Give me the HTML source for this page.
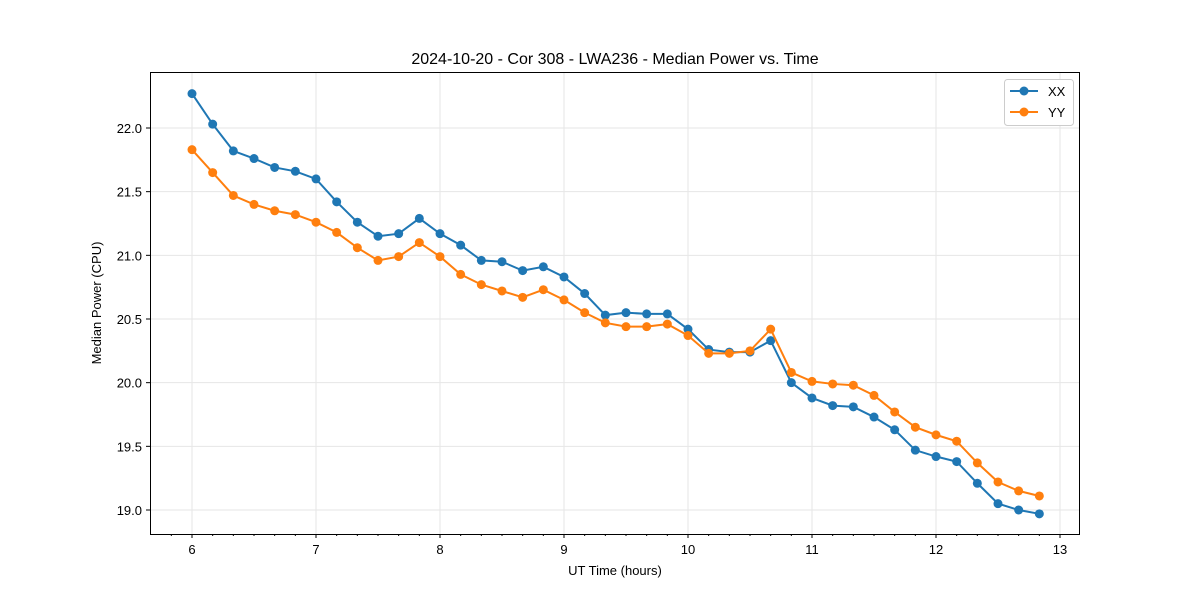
<!DOCTYPE html>
<html><head><meta charset="utf-8"><style>
body{margin:0;background:#fff;}
text{font-family:"Liberation Sans","DejaVu Sans",sans-serif;}
</style></head><body>
<svg id="chart" width="1200" height="600" xmlns="http://www.w3.org/2000/svg">
<rect width="1200" height="600" fill="#fff"/>
<text x="615" y="64" font-size="16" text-anchor="middle">2024-10-20 - Cor 308 - LWA236 - Median Power vs. Time</text>
<text x="615" y="575" font-size="13" text-anchor="middle">UT Time (hours)</text>
<text transform="translate(101,303) rotate(-90)" font-size="13" text-anchor="middle">Median Power (CPU)</text>
<g id="grid"></g><g id="ticks"></g><g id="series"></g>
<rect x="150.5" y="72.5" width="929" height="462" fill="none" stroke="#000" stroke-width="1"/>
<g>
<rect x="1004.5" y="79.5" width="69" height="46" rx="3" fill="#fff" stroke="#ccc"/>
<g><line x1="1010" y1="91" x2="1038" y2="91" stroke="#1f77b4" stroke-width="2"/><circle cx="1024" cy="91" r="4.5" fill="#1f77b4"/><text x="1048" y="96" font-size="13">XX</text></g>
<g><line x1="1010" y1="112" x2="1038" y2="112" stroke="#ff7f0e" stroke-width="2"/><circle cx="1024" cy="112" r="4.5" fill="#ff7f0e"/><text x="1048" y="117" font-size="13">YY</text></g>
</g>
</svg>
<script>
const xx=[22.27,22.03,21.82,21.76,21.69,21.66,21.60,21.42,21.26,21.15,21.17,21.29,21.17,21.08,20.96,20.95,20.88,20.91,20.83,20.70,20.53,20.55,20.54,20.54,20.42,20.26,20.24,20.24,20.33,20.00,19.88,19.82,19.81,19.73,19.63,19.47,19.42,19.38,19.21,19.05,19.00,18.97];
const yy=[21.83,21.65,21.47,21.40,21.35,21.32,21.26,21.18,21.06,20.96,20.99,21.10,20.99,20.85,20.77,20.72,20.67,20.73,20.65,20.55,20.47,20.44,20.44,20.46,20.37,20.23,20.23,20.25,20.42,20.08,20.01,19.99,19.98,19.90,19.77,19.65,19.59,19.54,19.37,19.22,19.15,19.11];
const startHour=6, stepHour=1/6;
const xTicks=[6,7,8,9,10,11,12,13];
const yTicks=[19.0,19.5,20.0,20.5,21.0,21.5,22.0];
const X=h=>192+(h-6)*124;
const Y=v=>128+(22-v)*127.333;
const NS="http://www.w3.org/2000/svg";
function mk(tag,attrs,parent){const e=document.createElementNS(NS,tag);for(const k in attrs)e.setAttribute(k,attrs[k]);document.getElementById(parent).appendChild(e);return e;}
xTicks.forEach(t=>{const x=X(t);
 const g=mk('line',{x1:x,x2:x,y1:73,y2:534,stroke:'#e6e6e6','stroke-width':1},'grid');
 
 
 mk('line',{x1:x,x2:x,y1:534,y2:538,stroke:'#000'},'ticks');
 const tx=mk('text',{x:x,y:554,'font-size':13,'text-anchor':'middle'},'ticks');tx.textContent=t;
 
 
});
for(let h=5.5;h<=13.2;h+=1/6){const x=X(h);if(x>151&&x<1079)mk('line',{x1:x,x2:x,y1:534,y2:536,stroke:'#000'},'ticks');}
yTicks.forEach(t=>{const y=Y(t);
 const g=mk('line',{x1:151,x2:1079,y1:y,y2:y,stroke:'#e6e6e6','stroke-width':1},'grid');
 
 
 mk('line',{x1:146,x2:150,y1:y,y2:y,stroke:'#000'},'ticks');
 const tx=mk('text',{x:142,y:y+5,'font-size':13,'text-anchor':'end'},'ticks');tx.textContent=t.toFixed(1);
 
 
});
function draw(data,color,name){
 const pts=data.map((v,i)=>X(startHour+i*stepHour)+','+Y(v)).join(' ');
 const pl=mk('polyline',{points:pts,fill:'none',stroke:color,'stroke-width':2},'series');
 
 
 data.forEach((v,i)=>{const c=mk('circle',{cx:X(startHour+i*stepHour),cy:Y(v),r:4.5,fill:color},'series');
  
  });
}
draw(xx,'#1f77b4','xx');
draw(yy,'#ff7f0e','yy');
</script>
</body></html>
